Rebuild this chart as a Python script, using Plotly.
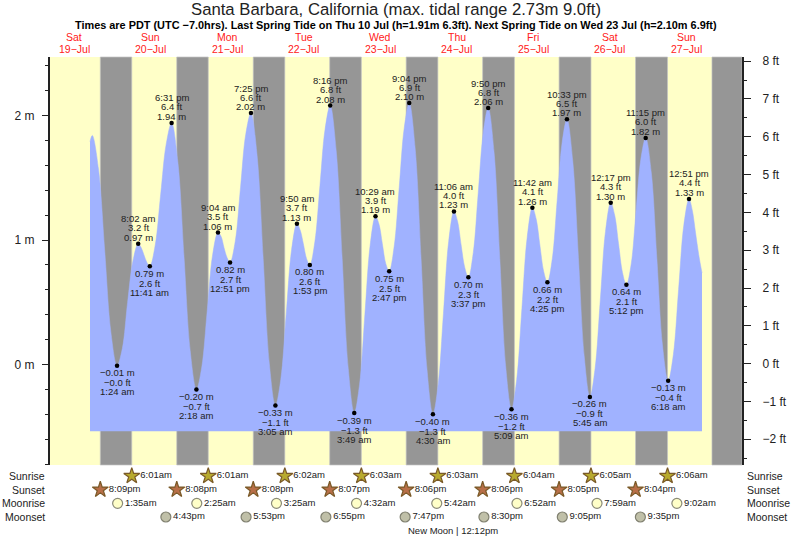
import plotly.graph_objects as go

# high and low waters
tide_times = [
    "2025-07-20 01:24", "2025-07-20 08:02", "2025-07-20 11:41", "2025-07-20 18:31",
    "2025-07-21 02:18", "2025-07-21 09:04", "2025-07-21 12:51", "2025-07-21 19:25",
    "2025-07-22 03:05", "2025-07-22 09:50", "2025-07-22 13:53", "2025-07-22 20:16",
    "2025-07-23 03:49", "2025-07-23 10:29", "2025-07-23 14:47", "2025-07-23 21:04",
    "2025-07-24 04:30", "2025-07-24 11:06", "2025-07-24 15:37", "2025-07-24 21:50",
    "2025-07-25 05:09", "2025-07-25 11:42", "2025-07-25 16:25", "2025-07-25 22:33",
    "2025-07-26 05:45", "2025-07-26 12:17", "2025-07-26 17:12", "2025-07-26 23:15",
    "2025-07-27 06:18", "2025-07-27 12:51",
]
tide_clock = [
    "1:24 am", "8:02 am", "11:41 am", "6:31 pm", "2:18 am", "9:04 am", "12:51 pm", "7:25 pm",
    "3:05 am", "9:50 am", "1:53 pm", "8:16 pm", "3:49 am", "10:29 am", "2:47 pm", "9:04 pm",
    "4:30 am", "11:06 am", "3:37 pm", "9:50 pm", "5:09 am", "11:42 am", "4:25 pm", "10:33 pm",
    "5:45 am", "12:17 pm", "5:12 pm", "11:15 pm", "6:18 am", "12:51 pm",
]
tide_m = [
    -0.01, 0.97, 0.79, 1.94, -0.20, 1.06, 0.82, 2.02, -0.33, 1.13, 0.80, 2.08, -0.39, 1.19, 0.75,
    2.10, -0.40, 1.23, 0.70, 2.06, -0.36, 1.26, 0.66, 1.97, -0.26, 1.30, 0.64, 1.82, -0.13, 1.33,
]
tide_ft = [
    -0.0, 3.2, 2.6, 6.4, -0.7, 3.5, 2.7, 6.6, -1.1, 3.7, 2.6, 6.8, -1.3, 3.9, 2.5,
    6.9, -1.3, 4.0, 2.3, 6.8, -1.2, 4.1, 2.2, 6.5, -0.9, 4.3, 2.1, 6.0, -0.4, 4.4,
]

# water level curve
curve_times = [
    "2025-07-19 16:55", "2025-07-19 17:38", "2025-07-19 19:35", "2025-07-19 21:31", "2025-07-19 23:28",
    "2025-07-20 01:24", "2025-07-20 03:04", "2025-07-20 04:43", "2025-07-20 06:22",
    "2025-07-20 08:02", "2025-07-20 08:57", "2025-07-20 09:51", "2025-07-20 10:46",
    "2025-07-20 11:41", "2025-07-20 13:23", "2025-07-20 15:06", "2025-07-20 16:49",
    "2025-07-20 18:31", "2025-07-20 20:28", "2025-07-20 22:24", "2025-07-21 00:21",
    "2025-07-21 02:18", "2025-07-21 03:59", "2025-07-21 05:41", "2025-07-21 07:23",
    "2025-07-21 09:04", "2025-07-21 10:01", "2025-07-21 10:57", "2025-07-21 11:54",
    "2025-07-21 12:51", "2025-07-21 14:29", "2025-07-21 16:08", "2025-07-21 17:47",
    "2025-07-21 19:25", "2025-07-21 21:20", "2025-07-21 23:15", "2025-07-22 01:10",
    "2025-07-22 03:05", "2025-07-22 04:46", "2025-07-22 06:27", "2025-07-22 08:09",
    "2025-07-22 09:50", "2025-07-22 10:51", "2025-07-22 11:51", "2025-07-22 12:52",
    "2025-07-22 13:53", "2025-07-22 15:29", "2025-07-22 17:04", "2025-07-22 18:40",
    "2025-07-22 20:16", "2025-07-22 22:09", "2025-07-23 00:02", "2025-07-23 01:56",
    "2025-07-23 03:49", "2025-07-23 05:29", "2025-07-23 07:09", "2025-07-23 08:49",
    "2025-07-23 10:29", "2025-07-23 11:33", "2025-07-23 12:38", "2025-07-23 13:43",
    "2025-07-23 14:47", "2025-07-23 16:21", "2025-07-23 17:55", "2025-07-23 19:30",
    "2025-07-23 21:04", "2025-07-23 22:55", "2025-07-24 00:47", "2025-07-24 02:39",
    "2025-07-24 04:30", "2025-07-24 06:09", "2025-07-24 07:48", "2025-07-24 09:27",
    "2025-07-24 11:06", "2025-07-24 12:14", "2025-07-24 13:21", "2025-07-24 14:29",
    "2025-07-24 15:37", "2025-07-24 17:10", "2025-07-24 18:43", "2025-07-24 20:17",
    "2025-07-24 21:50", "2025-07-24 23:40", "2025-07-25 01:29", "2025-07-25 03:19",
    "2025-07-25 05:09", "2025-07-25 06:47", "2025-07-25 08:25", "2025-07-25 10:04",
    "2025-07-25 11:42", "2025-07-25 12:53", "2025-07-25 14:03", "2025-07-25 15:14",
    "2025-07-25 16:25", "2025-07-25 17:57", "2025-07-25 19:29", "2025-07-25 21:01",
    "2025-07-25 22:33", "2025-07-26 00:21", "2025-07-26 02:09", "2025-07-26 03:57",
    "2025-07-26 05:45", "2025-07-26 07:23", "2025-07-26 09:01", "2025-07-26 10:39",
    "2025-07-26 12:17", "2025-07-26 13:31", "2025-07-26 14:44", "2025-07-26 15:58",
    "2025-07-26 17:12", "2025-07-26 18:43", "2025-07-26 20:13", "2025-07-26 21:44",
    "2025-07-26 23:15", "2025-07-27 01:01", "2025-07-27 02:46", "2025-07-27 04:32",
    "2025-07-27 06:18", "2025-07-27 07:56", "2025-07-27 09:34", "2025-07-27 11:13",
    "2025-07-27 12:51", "2025-07-27 13:52", "2025-07-27 14:53", "2025-07-27 15:54",
    "2025-07-27 16:55",
]
curve_m = [
    1.79, 1.84, 1.57, 0.92, 0.26,
    -0.01, 0.13, 0.50, 0.83,
    0.97, 0.94, 0.88, 0.82,
    0.79, 0.96, 1.37, 1.77,
    1.94, 1.63, 0.87, 0.11,
    -0.20, -0.02, 0.43, 0.88,
    1.06, 1.03, 0.94, 0.86,
    0.82, 0.99, 1.42, 1.85,
    2.02, 1.68, 0.85, 0.01,
    -0.33, -0.12, 0.40, 0.92,
    1.13, 1.08, 0.97, 0.85,
    0.80, 0.99, 1.44, 1.89,
    2.08, 1.72, 0.85, -0.03,
    -0.39, -0.16, 0.40, 0.96,
    1.19, 1.13, 0.97, 0.81,
    0.75, 0.95, 1.42, 1.90,
    2.10, 1.74, 0.85, -0.04,
    -0.40, -0.16, 0.41, 0.99,
    1.23, 1.15, 0.96, 0.78,
    0.70, 0.90, 1.38, 1.86,
    2.06, 1.71, 0.85, -0.01,
    -0.36, -0.12, 0.45, 1.02,
    1.26, 1.17, 0.96, 0.75,
    0.66, 0.85, 1.32, 1.78,
    1.97, 1.64, 0.86, 0.07,
    -0.26, -0.03, 0.52, 1.07,
    1.30, 1.20, 0.97, 0.74,
    0.64, 0.81, 1.23, 1.65,
    1.82, 1.54, 0.85, 0.15,
    -0.13, 0.08, 0.60, 1.12,
    1.33, 1.24, 1.06, 0.88,
    0.735,
]
curve_floor_m = -0.535

# sun and moon table
sunrise_times = ["2025-07-20 06:01", "2025-07-21 06:01", "2025-07-22 06:02", "2025-07-23 06:03",
                 "2025-07-24 06:03", "2025-07-25 06:04", "2025-07-26 06:05", "2025-07-27 06:06"]
sunrise_labels = ["6:01am", "6:01am", "6:02am", "6:03am", "6:03am", "6:04am", "6:05am", "6:06am"]
sunset_times = ["2025-07-19 20:09", "2025-07-20 20:08", "2025-07-21 20:08", "2025-07-22 20:07",
                "2025-07-23 20:06", "2025-07-24 20:06", "2025-07-25 20:05", "2025-07-26 20:04"]
sunset_labels = ["8:09pm", "8:08pm", "8:08pm", "8:07pm", "8:06pm", "8:06pm", "8:05pm", "8:04pm"]
moonrise_times = ["2025-07-20 01:35", "2025-07-21 02:25", "2025-07-22 03:25", "2025-07-23 04:32",
                  "2025-07-24 05:42", "2025-07-25 06:52", "2025-07-26 07:59", "2025-07-27 09:02"]
moonrise_labels = ["1:35am", "2:25am", "3:25am", "4:32am", "5:42am", "6:52am", "7:59am", "9:02am"]
moonset_times = ["2025-07-20 16:43", "2025-07-21 17:53", "2025-07-22 18:55", "2025-07-23 19:47",
                 "2025-07-24 20:30", "2025-07-25 21:05", "2025-07-26 21:35"]
moonset_labels = ["4:43pm", "5:53pm", "6:55pm", "7:47pm", "8:30pm", "9:05pm", "9:35pm"]
row_names = ["Sunrise", "Sunset", "Moonrise", "Moonset"]

# the last night runs off the right edge, its sunset is not in the table
last_sunset = "2025-07-27 20:03"

day_noons = ["2025-07-19 12:00", "2025-07-20 12:00", "2025-07-21 12:00", "2025-07-22 12:00", "2025-07-23 12:00",
             "2025-07-24 12:00", "2025-07-25 12:00", "2025-07-26 12:00", "2025-07-27 12:00"]
day_names = ["Sat", "Sun", "Mon", "Tue", "Wed", "Thu", "Fri", "Sat", "Sun"]
day_dates = ["19−Jul", "20−Jul", "21−Jul", "22−Jul", "23−Jul", "24−Jul", "25−Jul", "26−Jul", "27−Jul"]

x_start = "2025-07-19 04:22"
x_end = "2025-07-28 05:28"

title = "Santa Barbara, California (max. tidal range 2.73m 9.0ft)"
subtitle = ("Times are PDT (UTC −7.0hrs). Last Spring Tide on Thu 10 Jul (h=1.91m 6.3ft). "
            "Next Spring Tide on Wed 23 Jul (h=2.10m 6.9ft)")
moon_phase = "New Moon | 12:12pm"
moon_time = "2025-07-24 12:12"

FONT = "Liberation Sans"
TEXT = "#222222"
W, H = 793, 539
TOP, BOTTOM = 57, 465


def paper_y(px):
    return (H - px) / (H - TOP)


def signed(value, digits):
    return f"{value:.{digits}f}".replace("-", "−")


fig = go.Figure()

# baseline first so the water can fill down to it
fig.add_trace(go.Scatter(x=[curve_times[0], curve_times[-1]], y=[curve_floor_m, curve_floor_m],
                         mode="lines", line=dict(width=0), hoverinfo="skip"))
fig.add_trace(go.Scatter(x=curve_times, y=curve_m, mode="lines",
                         line=dict(color="#a0b2ff", width=0.5, shape="spline", smoothing=1),
                         fill="tonexty", fillcolor="#a0b2ff", hoverinfo="skip"))
fig.add_trace(go.Scatter(x=tide_times, y=tide_m, mode="markers",
                         marker=dict(color="black", size=4.5), hoverinfo="skip"))
# only there so the feet axis gets drawn
fig.add_trace(go.Scatter(x=tide_times, y=tide_ft, mode="none", yaxis="y2", hoverinfo="skip"))

# daylight background, only behind the tide plot and not the table below it
fig.add_shape(type="rect", xref="paper", yref="paper", x0=0, x1=1, y0=paper_y(BOTTOM), y1=1,
              fillcolor="#ffffc8", line=dict(width=0), layer="below")

# night bars
night_starts = sunset_times + [last_sunset]
night_ends = sunrise_times + [x_end]
for start, end in zip(night_starts, night_ends):
    fig.add_shape(type="rect", xref="x", yref="paper", x0=start, x1=end, y0=paper_y(BOTTOM), y1=1,
                  fillcolor="#969696", line=dict(color="#c4c4c4", width=0.7), layer="below")

# labels around each high and low water
for i, t in enumerate(tide_times):
    is_high = tide_ft[i] > (tide_ft[i - 1] if i > 0 else 99)
    if is_high:
        lines = [(tide_clock[i], 25), (f"{signed(tide_ft[i], 1)} ft", 16), (f"{signed(tide_m[i], 2)} m", 6.5)]
    else:
        lines = [(f"{signed(tide_m[i], 2)} m", -7), (f"{signed(tide_ft[i], 1)} ft", -17), (tide_clock[i], -26)]
    for text, shift in lines:
        fig.add_annotation(x=t, y=tide_m[i], yref="y", yshift=shift, text=text, showarrow=False, yanchor="middle",
                           font=dict(family=FONT, size=9.5, color=TEXT), borderpad=0)

# sun and moon rows
rows = [
    (sunrise_times, sunrise_labels, "star", 12, "#b8aa2e", "#7a5a28"),
    (sunset_times, sunset_labels, "star", 12, "#b86f48", "#7a5a28"),
    (moonrise_times, moonrise_labels, "circle", 10, "#ffffc8", "#8a8a78"),
    (moonset_times, moonset_labels, "circle", 10, "#c0c0a8", "#808070"),
]
for row, (times, labels, symbol, size, fill, edge) in enumerate(rows):
    fig.add_trace(go.Scatter(x=times, y=[row] * len(times), yaxis="y3", mode="markers+text",
                             text=labels, textposition="middle right", cliponaxis=False,
                             textfont=dict(family=FONT, size=9.5, color=TEXT),
                             marker=dict(symbol=symbol, size=size, color=fill, line=dict(color=edge, width=1.2)),
                             hoverinfo="skip"))
    fig.add_annotation(xref="paper", yref="y3", x=0, xshift=-3, y=row, text=row_names[row], showarrow=False,
                       xanchor="right", yanchor="middle", font=dict(family=FONT, size=10.5, color=TEXT))
    fig.add_annotation(xref="paper", yref="y3", x=1, xshift=3, y=row, text=row_names[row], showarrow=False,
                       xanchor="left", yanchor="middle", font=dict(family=FONT, size=10.5, color=TEXT))

fig.add_annotation(x=moon_time, yref="y3", y=4, xshift=-4, text=moon_phase, showarrow=False, yanchor="middle",
                   font=dict(family=FONT, size=9.5, color=TEXT))

# day headings
for noon, name, date in zip(day_noons, day_names, day_dates):
    for text, px in ((name, 37), (date, 49)):
        fig.add_annotation(x=noon, yref="paper", y=paper_y(px), text=text, showarrow=False, yanchor="middle",
                           font=dict(family=FONT, size=10.5, color="#ff2020"))

fig.add_annotation(xref="paper", yref="paper", x=0.5, y=paper_y(10), text=title, showarrow=False, yanchor="middle",
                   font=dict(family=FONT, size=16.7, color=TEXT))
fig.add_annotation(xref="paper", yref="paper", x=0.5, y=paper_y(25), text=f"<b>{subtitle}</b>", showarrow=False,
                   yanchor="middle", font=dict(family=FONT, size=10.9, color="black"))

fig.update_layout(
    width=W, height=H,
    margin=dict(l=50, r=51, t=TOP, b=0),
    paper_bgcolor="white",
    plot_bgcolor="white",
    showlegend=False,
    font=dict(family=FONT, color=TEXT),
    xaxis=dict(type="date", range=[x_start, x_end], visible=False, showgrid=False),
    yaxis=dict(
        domain=[paper_y(BOTTOM), 1], range=[-0.807, 2.47], dtick=1, ticksuffix=" m", showgrid=False, zeroline=False,
        showline=True, linewidth=2, linecolor="#222222", ticks="outside", ticklen=6, tickwidth=1, tickcolor="#222222",
        tickfont=dict(size=12, color=TEXT), ticklabelstandoff=5,
        minor=dict(dtick=0.2, ticks="outside", ticklen=3, tickcolor="#222222"),
    ),
    yaxis2=dict(
        overlaying="y", side="right", range=[-2.68, 8.11], dtick=1, ticksuffix=" ft", showgrid=False, zeroline=False,
        showline=True, linewidth=2, linecolor="#222222", ticks="outside", ticklen=7, tickwidth=1, tickcolor="#222222",
        tickfont=dict(size=12, color=TEXT), ticklabelstandoff=9,
        minor=dict(dtick=0.5, ticks="outside", ticklen=3, tickcolor="#222222"),
    ),
    yaxis3=dict(domain=[0, paper_y(BOTTOM)], range=[4.609, -0.805], visible=False, showgrid=False, zeroline=False),
)

# the page has a default body margin that would shift the chart
fig.write_html("out.html", config={"displayModeBar": False},
               post_script="document.body.style.margin = '0';")
